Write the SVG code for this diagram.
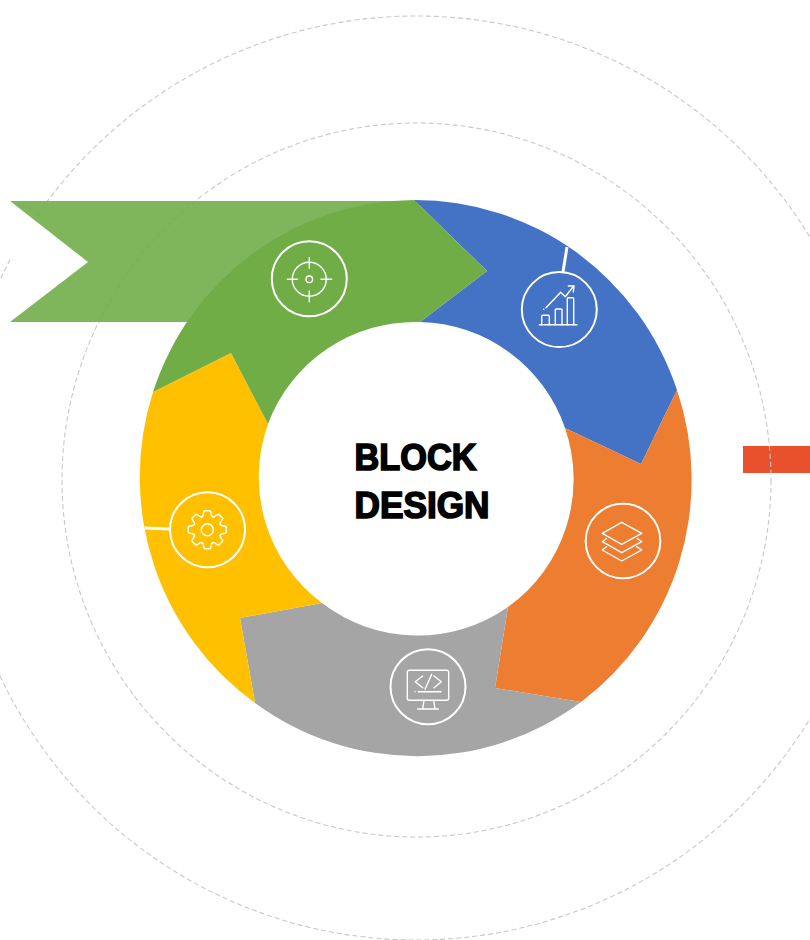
<svg xmlns="http://www.w3.org/2000/svg" width="810" height="940" viewBox="0 0 810 940">
<style>
.orbit{fill:none;stroke:#c8c8c8;stroke-width:1.1;stroke-dasharray:5 3}
.ico{fill:none;stroke:#fff;stroke-width:1.4;stroke-linejoin:round;stroke-linecap:round}
.ring{fill:none;stroke:#fff;stroke-width:2}
.conn{fill:none;stroke:#fff;stroke-width:3}
.title{font-family:"Liberation Sans",Arial,sans-serif;font-weight:700;font-size:36px;fill:#000;stroke:#000;stroke-width:1.6}
</style>
<defs>
<path id="tooth" d="M-5.36,-12.93Q-4.2,-13.4-4,-15L-3.4,-18Q-3.3,-19-2.3,-19L2.3,-19Q3.3,-19 3.4,-18L4,-15Q4.2,-13.4 5.36,-12.93"/>
</defs>
<rect id="red-bar" x="743" y="446" width="67" height="27" fill="#e9502c"/>
<g id="orbits">
<ellipse class="orbit" cx="416.5" cy="480" rx="354.5" ry="357"/>
<ellipse class="orbit" cx="416.5" cy="478" rx="461" ry="462"/>
</g>
<polygon id="banner-notch" points="10,201 88,262 10,322" fill="#fff"/>
<polygon id="banner" points="10,201 420,201 420,322 10,322 88,262" fill="#70ad47" fill-opacity=".89"/>
<g id="segment-blue">
<path fill="#4472c4" d="M414,200A276,278 0 0 1 677,390L641,464L565,428A157,157 0 0 0 420,322L487,271Z"/>
<circle class="ring" cx="559.3" cy="309.6" r="37.5"/>
<g class="ico">
<path d="M539.3,324.7H577"/>
<path d="M541.7,324.7V316.3Q541.7,315.3 542.7,315.3H548.3Q549.3,315.3 549.3,316.3V324.7"/>
<path d="M555.3,324.7V310Q555.3,309 556.3,309H561Q562,309 562,310V324.7"/>
<path d="M567.3,324.7V298.7Q567.3,297.7 568.3,297.7H572.7Q573.7,297.7 573.7,298.7V324.7"/>
<path d="M546,307.7L560.7,292.3L565.3,296.7L573.7,286"/>
<path d="M568.3,286H574L573.3,292"/>
<path d="M543.7,309.3h.1"/>
</g>
</g>
<g id="segment-orange">
<path fill="#ed7d31" d="M677,390A276,278 0 0 1 581,702L495,688L508,607A157,157 0 0 0 565,428L641,464Z"/>
<circle class="ring" cx="623" cy="541" r="37.3"/>
<g class="ico">
<path d="M621.7,522.3L641.7,533.3L621.7,544.3L602.3,533.3Z"/>
<path d="M606.5,538.5L602.3,541.7L621.7,552.7L641.7,541.7L637.3,538.5"/>
<path d="M606.5,546.7L602.3,550L621.7,561L641.7,550L636.7,546.7"/>
</g>
</g>
<g id="segment-gray">
<path fill="#a5a5a5" d="M581,702A276,278 0 0 1 255,703L240,618L322,603A157,157 0 0 0 508,607L495,688Z"/>
<circle class="ring" cx="428" cy="686.8" r="37.5"/>
<g class="ico">
<rect x="407.3" y="670.3" width="41.4" height="30" rx="2"/>
<path d="M422.7,676L415.3,681.7L422.7,687.7"/>
<path d="M434,676L441.3,681.7L434,687.7"/>
<path d="M431.7,674.3L425,689.3"/>
<path d="M418.3,691.7H441"/>
<path d="M415,691.7h.1"/>
<path d="M424,700.3L422.7,709M433.7,700.3L435,709M417.7,709H438.3"/>
</g>
</g>
<g id="segment-yellow">
<path fill="#ffc000" d="M255,703A276,278 0 0 1 153,392L231,353L268,424A157,157 0 0 0 322,603L240,618Z"/>
<circle class="ring" cx="207.5" cy="529.7" r="37.5"/>
<g class="ico" transform="translate(207.3,529.7)">
<circle r="6"/>
<use href="#tooth"/>
<use href="#tooth" transform="rotate(45)"/>
<use href="#tooth" transform="rotate(90)"/>
<use href="#tooth" transform="rotate(135)"/>
<use href="#tooth" transform="rotate(180)"/>
<use href="#tooth" transform="rotate(225)"/>
<use href="#tooth" transform="rotate(270)"/>
<use href="#tooth" transform="rotate(315)"/>
</g>
</g>
<g id="segment-green">
<path fill="#70ad47" d="M153,392A276,278 0 0 1 414,200L487,271L420,322A157,157 0 0 0 268,424L231,353Z"/>
<circle class="ring" cx="309.3" cy="278.8" r="37.5"/>
<g class="ico">
<circle cx="309.3" cy="279.3" r="17"/>
<circle cx="309.3" cy="279.3" r="3.3"/>
<path d="M287.3,279.3H297.3M321,279.3H331.7M309.3,257.7V268.3M309.3,291V301.7"/>
</g>
</g>
<g id="connectors">
<line class="conn" x1="563" y1="272" x2="567" y2="247"/>
<line class="conn" x1="145" y1="528" x2="170" y2="529"/>
</g>
<g id="center-label">
<text class="title" x="354.5" y="469.5" textLength="122" lengthAdjust="spacingAndGlyphs">BLOCK</text>
<text class="title" x="354.5" y="517.5" textLength="135" lengthAdjust="spacingAndGlyphs">DESIGN</text>
</g>
</svg>
